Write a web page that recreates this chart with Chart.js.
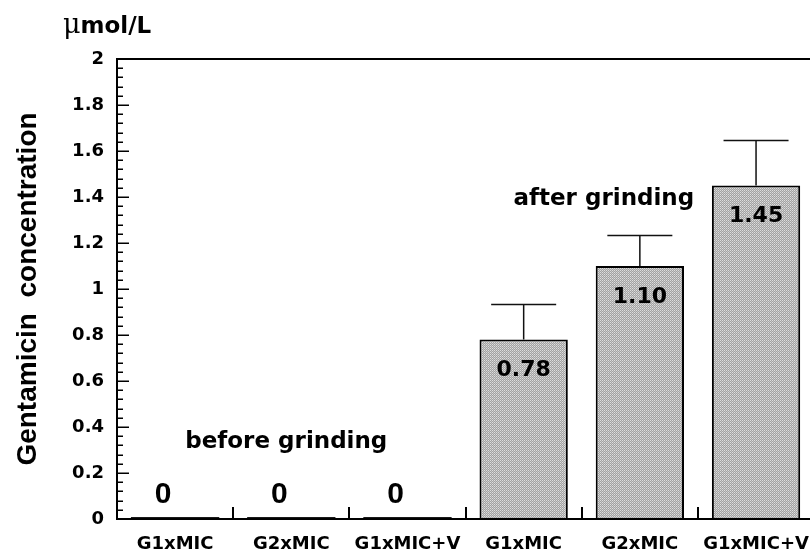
<!DOCTYPE html>
<html>
<head>
<meta charset="utf-8">
<title>Gentamicin concentration</title>
<script src="https://cdn.jsdelivr.net/npm/chart.js@4.4.1/dist/chart.umd.min.js"></script>
<style>
  html, body { margin: 0; padding: 0; background: #fff; overflow: hidden; }
  #wrap { width: 816px; height: 552px; }
</style>
</head>
<body>
<div id="wrap"><canvas id="chart" width="816" height="552"></canvas></div>
<script>
/* ---- Data ---- */
const categories  = ['G1xMIC', 'G2xMIC', 'G1xMIC+V', 'G1xMIC', 'G2xMIC', 'G1xMIC+V'];
const concValues  = [0, 0, 0, 0.78, 1.10, 1.45];
const concErrors  = [0, 0, 0, 0.155, 0.135, 0.20];
const valueLabels = ['0', '0', '0', '0.78', '1.10', '1.45'];
const groupLabels = ['before grinding', 'after grinding'];
const yTickLabels = ['0', '0.2', '0.4', '0.6', '0.8', '1', '1.2', '1.4', '1.6', '1.8', '2'];

// Stippled grey fill, like the scanned figure
function makeStipple() {
  const c = document.createElement('canvas');
  c.width = 2; c.height = 2;
  const g = c.getContext('2d');
  g.fillStyle = '#a2a2a2'; g.fillRect(0, 0, 2, 2);
  g.fillStyle = '#dedede'; g.fillRect(0, 0, 1, 1);
  g.fillStyle = '#c6c6c6'; g.fillRect(1, 1, 1, 1);
  return g.createPattern(c, 'repeat');
}
const stipple = makeStipple();

/* ---- Frame + inward ticks ---- */
const framePlugin = {
  id: 'frame',
  afterDatasetsDraw(chart) {
    const { ctx, chartArea: { left, right, top, bottom }, scales: { x, y } } = chart;
    ctx.save();
    ctx.strokeStyle = '#000';
    ctx.lineWidth = 2;
    ctx.beginPath();
    ctx.moveTo(left - 1, top);    ctx.lineTo(right, top);
    ctx.moveTo(left, top);        ctx.lineTo(left, bottom + 1);
    ctx.moveTo(left - 1, bottom); ctx.lineTo(right, bottom);
    ctx.stroke();

    // y ticks: major every 0.2, minor every 0.04
    ctx.lineWidth = 1.5;
    ctx.beginPath();
    for (let k = 0; k <= 50; k++) {
      const py = Math.round(y.getPixelForValue(k * 0.04)) + 0.25;
      const len = k % 5 === 0 ? 12 : 6;
      ctx.moveTo(left, py); ctx.lineTo(left + len, py);
    }
    ctx.stroke();

    // x dividers between categories
    ctx.lineWidth = 2;
    ctx.beginPath();
    for (let i = 0; i < categories.length - 1; i++) {
      const px = Math.round((x.getPixelForValue(i) + x.getPixelForValue(i + 1)) / 2);
      ctx.moveTo(px, bottom); ctx.lineTo(px, bottom - 12);
    }
    ctx.stroke();
    ctx.restore();
  }
};

/* ---- Error bars, value labels, group labels, unit ---- */
const annotatePlugin = {
  id: 'annotate',
  afterDatasetsDraw(chart) {
    const { ctx, chartArea, scales: { x, y } } = chart;
    const bars = chart.getDatasetMeta(0).data;
    ctx.save();
    ctx.strokeStyle = '#111';
    ctx.fillStyle = '#000';

    // one-sided error bars
    ctx.lineWidth = 1.5;
    bars.forEach((bar, i) => {
      if (!concErrors[i]) return;
      const yTop = Math.round(y.getPixelForValue(concValues[i] + concErrors[i])) + 0.5;
      ctx.beginPath();
      ctx.moveTo(bar.x, bar.y); ctx.lineTo(bar.x, yTop);
      ctx.moveTo(bar.x - 32.5, yTop); ctx.lineTo(bar.x + 32.5, yTop);
      ctx.stroke();
    });

    // value labels
    ctx.textAlign = 'center';
    ctx.textBaseline = 'middle';
    bars.forEach((bar, i) => {
      if (concValues[i] === 0) {
        ctx.font = 'bold 30px "Liberation Sans Narrow", "Liberation Sans"';
        ctx.fillText(valueLabels[i], bar.x - 12, y.getPixelForValue(0) - 24);
      } else {
        ctx.font = 'bold 22px "DejaVu Sans"';
        ctx.fillText(valueLabels[i], bar.x, bar.y + 31);
      }
    });

    // group labels
    ctx.font = 'bold 23px "DejaVu Sans"';
    ctx.fillText(groupLabels[0], x.getPixelForValue(1) - 5, y.getPixelForValue(0.335));
    const x3 = x.getPixelForValue(3), x4 = x.getPixelForValue(4);
    ctx.fillText(groupLabels[1], x3 + 0.69 * (x4 - x3), y.getPixelForValue(1.39));

    // unit above the y axis
    ctx.textAlign = 'left';
    ctx.textBaseline = 'alphabetic';
    const ux = chartArea.left - 54, uy = chartArea.top - 26;
    ctx.font = '27px "DejaVu Serif"';
    ctx.fillText('\u03bc', ux, uy);
    const mu = ctx.measureText('\u03bc').width;
    ctx.font = 'bold 23px "DejaVu Sans"';
    ctx.fillText('mol/L', ux + mu, uy);
    ctx.restore();
  }
};

new Chart(document.getElementById('chart'), {
  type: 'bar',
  data: {
    labels: categories,
    datasets: [{
      data: concValues,
      backgroundColor: c => concValues[c.dataIndex] === 0 ? '#1a1a1a' : stipple,
      borderColor: '#000',
      borderWidth: c => concValues[c.dataIndex] === 0 ? 0 : 2,
      minBarLength: 2,
      barPercentage: 0.76,
      categoryPercentage: 1
    }]
  },
  options: {
    responsive: false,
    animation: false,
    layout: { padding: { top: 59, right: 1, bottom: 0, left: 0 } },
    plugins: { legend: { display: false }, tooltip: { enabled: false } },
    scales: {
      x: {
        grid: { display: false },
        border: { display: false },
        ticks: {
          color: '#000',
          font: { family: 'DejaVu Sans', size: 18, weight: 'bold' },
          padding: 7,
          maxRotation: 0,
          autoSkip: false
        },
        afterFit: s => { s.height = 33; }
      },
      y: {
        min: 0,
        max: 2,
        grid: { display: false, drawTicks: false },
        border: { display: false },
        ticks: {
          stepSize: 0.2,
          padding: 13,
          color: '#000',
          font: { family: 'DejaVu Sans', size: 18, weight: 'bold' },
          callback: (v, i) => yTickLabels[i]
        },
        title: {
          display: true,
          text: 'Gentamicin  concentration',
          color: '#000',
          font: { family: 'Liberation Sans', size: 28, weight: 'bold' },
          padding: { top: 11, bottom: 0 }
        },
        afterFit: s => { s.width = 117; }
      }
    }
  },
  plugins: [framePlugin, annotatePlugin]
});
</script>
</body>
</html>
